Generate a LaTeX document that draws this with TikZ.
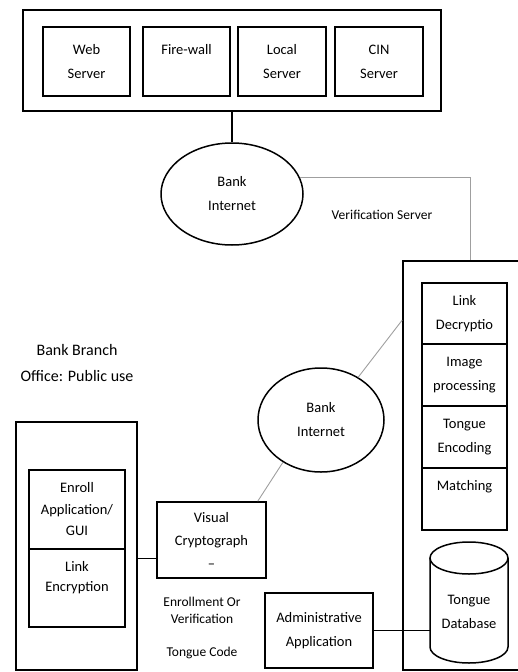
\documentclass[tikz,border=0pt]{standalone}
\usepackage{fontspec}
\setmainfont{Carlito}
\usepackage{tikz}
\usetikzlibrary{shapes.geometric}

\begin{document}
\begin{tikzpicture}[x=1pt, y=-1pt, every node/.style={align=center, font=\fontsize{14.5}{24}\selectfont, inner sep=0pt},
	box/.style={draw, line width=1.6pt, rectangle}, net/.style={draw, line width=1.5pt, ellipse}, link/.style={line width=0.8pt}, glink/.style={line width=0.9pt, gray!75}]
			\clip (0,0) rectangle (518,672);
			% head office
			\node[box, minimum width=418, minimum height=101] (office) at (232,60.5) {};
			\node[box, minimum width=87, minimum height=69] (web) at (86.5,61.5) {Web\\Server};
			\node[box, minimum width=87, minimum height=69] (fire) at (186.5,61.5) {Fire-wall\\\phantom{S}};
			\node[box, minimum width=88, minimum height=69] (local) at (282,61.5) {Local\\Server};
			\node[box, minimum width=88, minimum height=69] (cin) at (379,61.5) {CIN\\Server};
			\node[net, minimum width=142, minimum height=102] (net1) at (232,194) {Bank\\Internet};
			\draw[line width=1.5pt] (office.south) -- (net1.north);
			% verification server
			\node[box, minimum width=134, minimum height=409] (vsrv) at (470,465.5) {};
			\node[font=\fontsize{13.5}{20}\selectfont] (vlbl) at (382,215) {Verification Server};
			\draw[glink] (net1.14) -| (vsrv.north);
			\node[box, minimum width=85, minimum height=61] (decr) at (464.5,313.5) {Link\\Decryptio};
			\node[box, minimum width=85, minimum height=62] (img) at (464.5,375) {Image\\processing};
			\node[box, minimum width=85, minimum height=62] (enc) at (464.5,437) {Tongue\\Encoding};
			\node[box, minimum width=85, minimum height=62] (match) at (464.5,499) {Matching\\\phantom{g}};
			\draw[line width=1.5pt] (430,558) -- (430,647) arc[start angle=180, end angle=0, x radius=39, y radius=16] -- (508,558);
			\draw[line width=1.5pt] (469,558) ellipse[x radius=39, y radius=16];
			\node (db) at (469,612) {Tongue\\Database};
			\coordinate (dbw) at (430,630.5);
			\node[box, minimum width=108, minimum height=75] (admin) at (319,630.5) {Administrative\\Application};
			\draw[link] (admin.east) -- (dbw);
			% bank branch
			\node[font=\fontsize{16}{26}\selectfont] (blbl) at (77,363) {Bank Branch\\Office: Public use};
			\node[box, minimum width=121, minimum height=248] (branch) at (76.5,546) {};
			\node[box, minimum width=96, minimum height=79, font=\fontsize{14.5}{21.5}\selectfont] (enroll) at (77,509.5) {Enroll\\Application/\\GUI};
			\node[box, minimum width=96, minimum height=78, font=\fontsize{14.5}{20}\selectfont] (lenc) at (77,588) {Link\\Encryption\\\phantom{g}};
			\node[box, minimum width=109, minimum height=76, font=\fontsize{14.5}{23}\selectfont] (visual) at (211.5,540) {Visual\\Cryptograph\\--};
			\draw[link] (visual.198) -- (visual.198 -| branch.east);
			\node[net, minimum width=126, minimum height=104] (net2) at (321,420) {Bank\\Internet};
			\draw[glink] (net2.228) -- (visual.40);
			\draw[glink] (net2.49) -- (vsrv.115);
			\node[font=\fontsize{13.5}{17}\selectfont] (mode) at (202,610) {Enrollment Or\\Verification};
			\node[font=\fontsize{13.5}{17}\selectfont] (code) at (202,653) {Tongue Code};
		\end{tikzpicture}
\end{document}
